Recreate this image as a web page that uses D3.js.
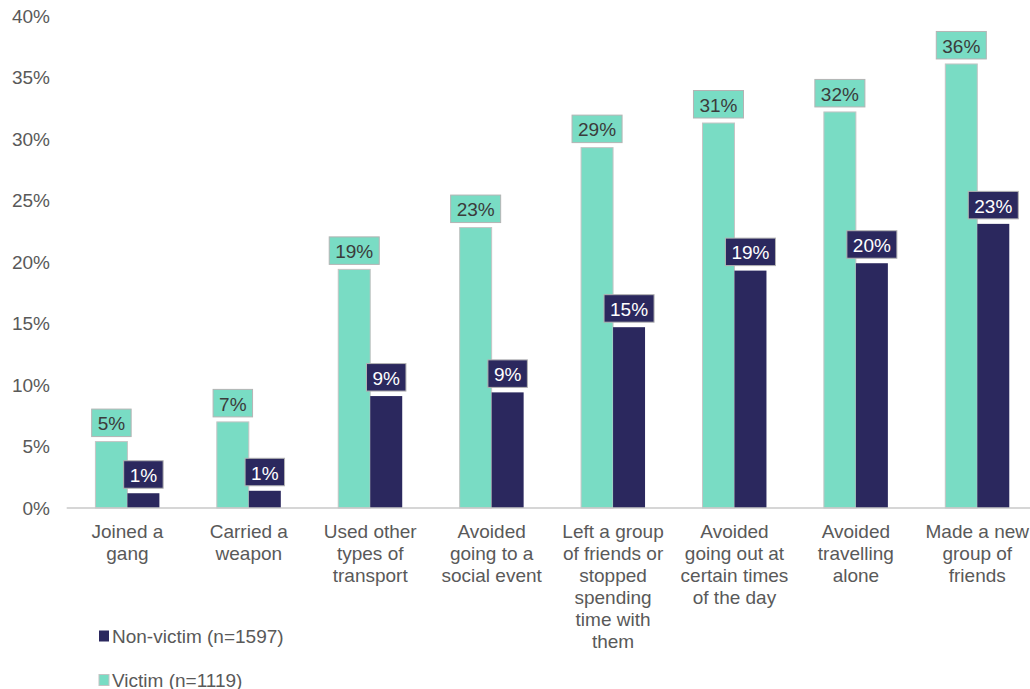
<!DOCTYPE html>
<html>
<head>
<meta charset="utf-8">
<script src="https://cdn.jsdelivr.net/npm/d3@7"></script>
<style>
  html, body { margin: 0; padding: 0; background: #fff; }
  svg { display: block; font-family: "Liberation Sans", Arial, sans-serif; }
</style>
</head>
<body>
<svg id="chart" width="1030" height="689"></svg>
<script>
// Behaviour changes after victimisation, share of respondents (%)
const categories = [
  ["Joined a", "gang"],
  ["Carried a", "weapon"],
  ["Used other", "types of", "transport"],
  ["Avoided", "going to a", "social event"],
  ["Left a group", "of friends or", "stopped", "spending", "time with", "them"],
  ["Avoided", "going out at", "certain times", "of the day"],
  ["Avoided", "travelling", "alone"],
  ["Made a new", "group of", "friends"]
];
const victimValues    = [5.4, 7.0, 19.4, 22.8, 29.3, 31.3, 32.2, 36.1];
const nonVictimValues = [1.2, 1.4, 9.1, 9.4, 14.7, 19.3, 19.9, 23.1];
const seriesNames = ["Victim", "Non-victim"];
const legendLabels = ["Non-victim (n=1597)", "Victim (n=1119)"];
const yTicks = [0, 5, 10, 15, 20, 25, 30, 35, 40];

const colors = { "Victim": "#79dcc4", "Non-victim": "#2b285e" };
const labelText = { "Victim": "#3b3b3b", "Non-victim": "#ffffff" };

const svg = d3.select("#chart");
const plotLeft = 66.7, plotRight = 1038, plotTop = 16, plotBottom = 508;
const fontSize = 19;

const catIdx = d3.range(categories.length);
const x0 = d3.scaleBand().domain(catIdx).range([plotLeft, plotRight])
  .paddingInner(0.473).paddingOuter(0.2365);
const x1 = d3.scaleBand().domain(seriesNames).range([0, x0.bandwidth()]);
const y = d3.scaleLinear().domain([0, 40]).range([plotBottom, plotTop]);

// Y tick labels (no axis line, no gridlines)
svg.append("g").selectAll("text").data(yTicks).join("text")
  .attr("x", 50).attr("y", d => y(d))
  .attr("text-anchor", "end").attr("dominant-baseline", "central")
  .attr("fill", "#595959").attr("font-size", fontSize)
  .text(d => d + "%");

// Bars
const rows = catIdx.map(i => ({ i, values: [
  { s: "Victim", v: victimValues[i] },
  { s: "Non-victim", v: nonVictimValues[i] }
]}));

const groups = svg.append("g").selectAll("g").data(rows).join("g")
  .attr("transform", d => `translate(${x0(d.i)},0)`);

groups.selectAll("rect").data(d => d.values).join("rect")
  .attr("x", d => x1(d.s)).attr("width", x1.bandwidth())
  .attr("y", d => y(d.v)).attr("height", d => y(0) - y(d.v))
  .attr("fill", d => colors[d.s])
  .attr("stroke", d => d.s === "Victim" ? "#c4c4c4" : "none")
  .attr("stroke-width", 1);

// X axis baseline
svg.append("line")
  .attr("x1", plotLeft).attr("x2", 1030).attr("y1", plotBottom).attr("y2", plotBottom)
  .attr("stroke", "#c8c8c8").attr("stroke-width", 1.5);

// Value labels in boxes above each bar
groups.each(function(d) {
  const g = d3.select(this);
  d.values.forEach(p => {
    const cx = x1(p.s) + x1.bandwidth() / 2;
    const boxBottom = y(p.v) - 5;
    const h = 27.5;
    const lg = g.append("g");
    const rect = lg.append("rect");
    const t = lg.append("text")
      .attr("x", cx).attr("y", boxBottom - h / 2 + 1)
      .attr("text-anchor", "middle").attr("dominant-baseline", "central")
      .attr("font-size", fontSize).attr("fill", labelText[p.s])
      .text(Math.round(p.v) + "%");
    const w = t.node().getComputedTextLength() + 12;
    rect.attr("x", cx - w / 2).attr("y", boxBottom - h)
      .attr("width", w).attr("height", h)
      .attr("fill", colors[p.s])
      .attr("stroke", "#b4b4b4").attr("stroke-width", 1);
  });
});

// Category labels
svg.append("g").selectAll("text").data(rows).join("text")
  .attr("text-anchor", "middle").attr("font-size", fontSize).attr("fill", "#595959")
  .each(function(d) {
    const cx = x0(d.i) + x0.bandwidth() / 2;
    d3.select(this).selectAll("tspan").data(categories[d.i]).join("tspan")
      .attr("x", cx).attr("y", (l, k) => 531 + k * 22)
      .attr("dominant-baseline", "central")
      .text(l => l);
  });

// Legend
const legend = svg.append("g").selectAll("g").data(legendLabels).join("g")
  .attr("transform", (d, k) => `translate(99,${636 + k * 44})`);
legend.append("rect")
  .attr("x", 0).attr("y", -5.5).attr("width", 10).attr("height", 11)
  .attr("fill", (d, k) => k === 0 ? colors["Non-victim"] : colors["Victim"])
  .attr("stroke", (d, k) => k === 0 ? "none" : "#c4c4c4");
legend.append("text")
  .attr("x", 13).attr("y", 0).attr("dominant-baseline", "central")
  .attr("font-size", fontSize).attr("fill", "#595959")
  .text(d => d);
</script>
</body>
</html>
